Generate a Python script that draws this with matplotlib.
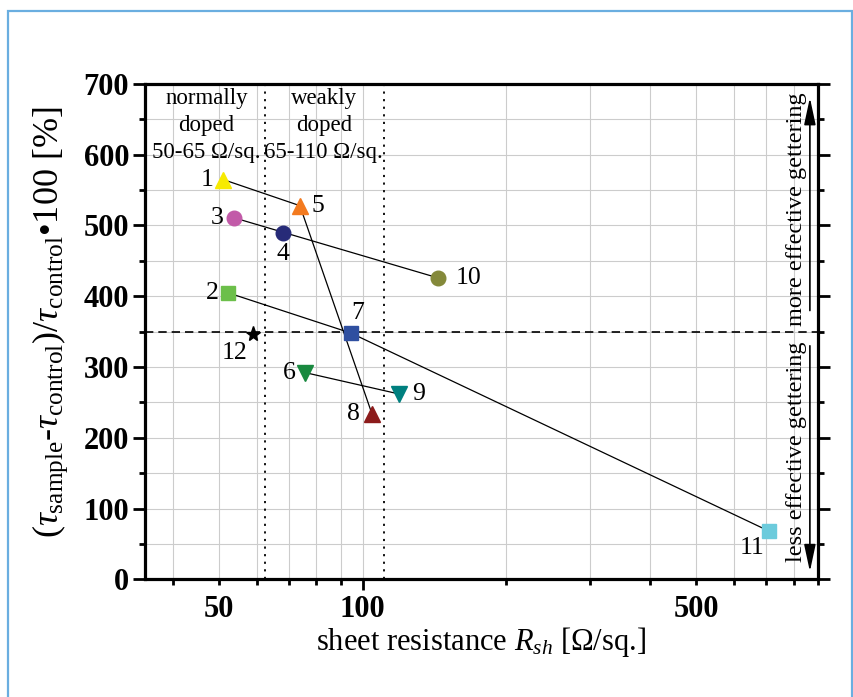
import matplotlib
matplotlib.use('Agg')
import matplotlib.pyplot as plt
from matplotlib.patches import Rectangle
from matplotlib.ticker import FixedLocator, FixedFormatter

plt.rcParams['font.family'] = ['Liberation Serif', 'DejaVu Serif']
plt.rcParams['mathtext.fontset'] = 'custom'
plt.rcParams['mathtext.rm'] = 'Liberation Serif'
plt.rcParams['mathtext.it'] = 'Liberation Serif:italic'
plt.rcParams['mathtext.bf'] = 'Liberation Serif:bold'

# sample data
sample_ids = ['1', '2', '3', '4', '5', '6', '7', '8', '9', '10', '11', '12']
rsh = [51.0, 52.2, 53.7, 68.2, 73.9, 75.9, 94.5, 104.6, 119.0, 143.8, 711.0, 58.9]
gain = [565, 405, 511, 489, 528, 292, 348, 234, 262, 426, 68, 347]
markers = ['^', 's', 'o', 'o', '^', 'v', 's', '^', 'v', 'o', 's', '*']
colors = ['#f7ea00', '#6cbf4a', '#c25aa8', '#272b78', '#f37a1f', '#19893f',
          '#2f4fa0', '#8c1b1b', '#00807f', '#84893a', '#6ccbdc', '#000000']
# which samples are joined by lines
links = [('1', '5'), ('3', '10'), ('2', '7'), ('7', '11'), ('5', '8'), ('6', '9')]
# label offsets in pixels
label_off = {'1': (-16, 0), '2': (-16, 0), '3': (-17, 0), '4': (0, -21),
             '5': (18, 0), '6': (-16, 0), '7': (7, 20), '8': (-18, 0),
             '9': (20, 0), '10': (31, 0), '11': (-17, -17), '12': (-18, -19)}

doping_edges = [62.5, 111]
threshold = 350

fig = plt.figure(figsize=(8.54, 6.97), dpi=100)
ax = fig.add_axes([0.1698, 0.1689, 0.7880, 0.7106])

ax.set_xscale('log')
ax.set_xlim(35, 900)
ax.set_ylim(0, 700)

# grid on every tick
minor_x = [40, 50, 60, 70, 80, 90, 200, 300, 400, 500, 600, 700, 800, 900]
ax.xaxis.set_major_locator(FixedLocator([100]))
ax.xaxis.set_major_formatter(FixedFormatter(['100']))
ax.xaxis.set_minor_locator(FixedLocator(minor_x))
ax.xaxis.set_minor_formatter(FixedFormatter(['', '50', '', '', '', '', '', '', '', '500', '', '', '', '']))
ax.set_yticks(range(0, 701, 100))
ax.set_yticks(range(50, 700, 100), minor=True)
ax.grid(True, which='both', color='#cccccc', lw=0.8, zorder=0)

for lab in ax.get_xticklabels(which='both') + ax.get_yticklabels():
    lab.set_fontweight('bold')
ax.tick_params(axis='both', which='both', labelsize=22, direction='out', width=2)
ax.tick_params(axis='x', which='major', length=8, pad=3)
ax.tick_params(axis='x', which='minor', length=4.5, pad=6.5)
ax.tick_params(axis='y', which='major', length=8.5, pad=3)
ax.tick_params(axis='y', which='minor', length=4)
ax.tick_params(axis='y', which='both', right=True)
for s in ax.spines.values():
    s.set_linewidth(2.3)

for xv in doping_edges:
    ax.axvline(xv, color='k', ls=(0, (1.2, 3)), lw=1.3, zorder=2)
ax.axhline(threshold, color='k', ls=(0, (5, 3)), lw=1.2, zorder=2)

idx = {s: i for i, s in enumerate(sample_ids)}
for a, b in links:
    ax.plot([rsh[idx[a]], rsh[idx[b]]], [gain[idx[a]], gain[idx[b]]],
            color='k', lw=0.9, zorder=3)

for i, sid in enumerate(sample_ids):
    m = markers[i]
    ms = {'^': 11.5, 'v': 11.5, 'o': 10.5, 's': 9.5, '*': 11}[m]
    ax.plot(rsh[i], gain[i], marker=m, ms=ms, color=colors[i], mec=colors[i],
            ls='none', zorder=4)
    ax.annotate(sid, (rsh[i], gain[i]), xytext=label_off[sid],
                textcoords='offset pixels', ha='center', va='center', fontsize=18.5)

ax.text(47.1, 695, 'normally\ndoped\n50-65 \u03a9/sq.', ha='center', va='top',
        fontsize=16.5, linespacing=1.4)
ax.text(82.9, 695, 'weakly\ndoped\n65-110 \u03a9/sq.', ha='center', va='top',
        fontsize=16.5, linespacing=1.4)

arrow_style = '-|>,head_length=0.75,head_width=0.16'
ax.annotate('', xy=(0.988, 0.978), xytext=(0.988, 0.537), xycoords='axes fraction',
            arrowprops=dict(arrowstyle=arrow_style, color='k', lw=1.2, mutation_scale=22))
ax.annotate('', xy=(0.988, 0.01), xytext=(0.988, 0.477), xycoords='axes fraction',
            arrowprops=dict(arrowstyle=arrow_style, color='k', lw=1.2, mutation_scale=22))
ax.text(0.968, 0.748, 'more effective gettering', transform=ax.transAxes,
        rotation=90, ha='center', va='center', fontsize=17.5)
ax.text(0.968, 0.257, 'less effective gettering', transform=ax.transAxes,
        rotation=90, ha='center', va='center', fontsize=17.5)

ax.set_xlabel(r'sheet resistance $R_{sh}$ [$\Omega$/sq.]', fontsize=22, labelpad=1)
ax.set_ylabel(r'($\it{\tau}_{\rm{sample}}$-$\it{\tau}_{\rm{control}}$)/$\it{\tau}_{\rm{control}}$' + '\u2022100 [%]',
              fontsize=26, labelpad=2)
ax.yaxis.set_label_coords(-0.112, 0.52)

fig.add_artist(Rectangle((8 / 854, -0.01), 844 / 854, (697 - 11) / 697 + 0.01,
                         transform=fig.transFigure, fill=False,
                         edgecolor='#6aaee0', lw=1.6))

fig.savefig('out.png', dpi=100)
